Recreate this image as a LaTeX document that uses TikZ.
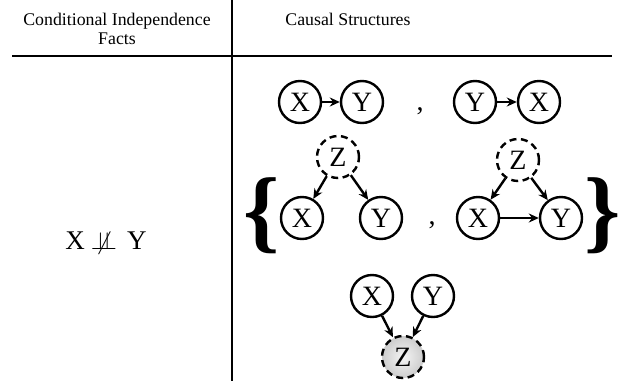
\documentclass[tikz,border=0pt]{standalone}
\usepackage{fontspec}
\setmainfont{Liberation Serif}
\usetikzlibrary{arrows.meta,shapes.geometric}
\begin{document}
\begin{tikzpicture}[x=1pt,y=-1pt,
  var/.style={circle,draw,line width=2.4pt,minimum size=42pt,inner sep=0pt,font=\fontsize{28}{28}\selectfont},
  hid/.style={var,dash pattern=on 7pt off 4.5pt},
  obs/.style={hid,inner color=gray!8,outer color=gray!40},
  arr/.style={line width=2.4pt,-{Stealth[length=10pt,width=9pt]}},
  hdr/.style={font=\fontsize{17.8}{19}\selectfont,align=center},
  brc/.style={font=\fontsize{92}{92}\selectfont\bfseries,inner sep=0pt}]
\useasboundingbox (0,0) rectangle (624,381);
\coordinate (vt) at (232,0);
\coordinate (vb) at (232,381);
\coordinate (hl) at (12,56);
\coordinate (hr) at (612,56);
\draw[line width=1.5pt] (vt) -- (vb);
\draw[line width=2pt] (hl) -- (hr);
\node[hdr] (h1) at (117,29) {Conditional Independence\\Facts};
\node[hdr] (h2) at (348,19) {Causal Structures};
\node[font=\fontsize{27}{27}\selectfont] (ci) at (106,243) {X\hspace{10pt}$\not\!\perp\!\!\!\perp$\hspace{10pt}Y};
% row 1
\node[var] (x1) at (300,102) {X};
\node[var] (y1) at (362,102) {Y};
\node[font=\fontsize{28}{28}\selectfont,anchor=base] (c1) at (420,110) {,};
\node[var] (y2) at (475,102) {Y};
\node[var] (x2) at (539,102) {X};
\draw[arr] (x1) -- (y1);
\draw[arr] (y2) -- (x2);
% row 2
\node[brc] (lb) at (262,216) {\{};
\node[hid] (z1) at (338,157) {Z};
\node[var] (x3) at (302,218) {X};
\node[var] (y3) at (381,218) {Y};
\draw[arr] (z1) -- (x3);
\draw[arr] (z1) -- (y3);
\node[font=\fontsize{28}{28}\selectfont,anchor=base] (c2) at (432,224) {,};
\node[hid] (z2) at (518,160) {Z};
\node[var] (x4) at (478,218) {X};
\node[var] (y4) at (561,218) {Y};
\draw[arr] (z2) -- (x4);
\draw[arr] (z2) -- (y4);
\draw[arr] (x4) -- (y4);
\node[brc] (rb) at (603,216) {\}};
% row 3
\node[var] (x5) at (372,296) {X};
\node[var] (y5) at (433,296) {Y};
\node[obs] (z3) at (403,357) {Z};
\draw[arr] (x5) -- (z3);
\draw[arr] (y5) -- (z3);
\end{tikzpicture}
\end{document}
